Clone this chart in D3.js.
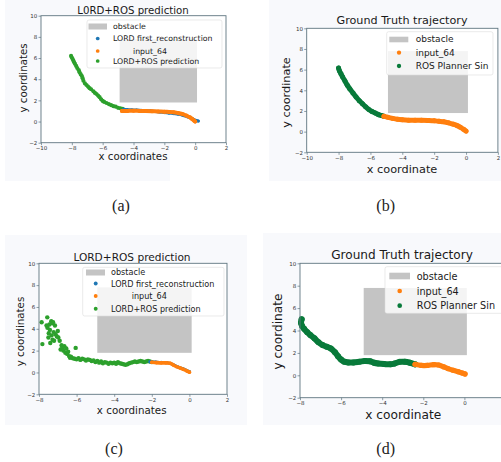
<!DOCTYPE html>
<html>
<head>
<meta charset="utf-8">
<script src="https://cdn.jsdelivr.net/npm/d3@7"></script>
<style>
body { margin: 0; background: #fff; }
svg { display: block; }
</style>
</head>
<body>
<div id="chart"></div>
<script>
var width = 501;
var height = 462;

// axis ranges and tick values
var xDomainWide = [-10, 2];
var xDomainNarrow = [-8, 2];
var xTicksWide = [-10, -8, -6, -4, -2, 0, 2];
var xTicksNarrow = [-8, -6, -4, -2, 0, 2];
var xTicksCut = [-8, -6, -4, -2, 0];       // panel (d): the "2" falls off the picture
var yTicks = [-2, 0, 2, 4, 6, 8, 10];

// obstacle rectangle (data units)
var obstacle = [-4.9, 0.12, 1.8, 7.8];   // x0, x1, y0, y1

var legendPred = ["obstacle", "LORD first_reconstruction", "input_64", "LORD+ROS prediction"];
var legendTruth = ["obstacle", "input_64", "ROS Planner Sin"];

// (a) prediction
var aGreen = [[-8.05,6.2],[-8.0,6.05],[-7.95,5.9],[-7.9,5.75],[-7.85,5.6],[-7.8,5.45],[-7.72,5.25],[-7.65,5.05],
  [-7.55,4.85],[-7.5,4.65],[-7.42,4.45],[-7.35,4.3],[-7.3,4.1],[-7.25,3.85],[-7.15,3.6],[-7.05,3.45],[-6.95,3.3],
  [-6.85,3.15],[-6.75,3.05],[-6.6,2.85],[-6.5,2.7],[-6.4,2.6],[-6.3,2.45],[-6.2,2.3],[-6.1,2.1],[-6.0,1.95],
  [-5.9,1.85],[-5.75,1.75],[-5.6,1.65],[-5.45,1.55],[-5.3,1.45],[-5.15,1.4],[-5.0,1.3],[-4.85,1.25],[-4.7,1.2]];
var aBlue = [[-4.65,1.15],[-4.4,1.12],[-4.1,1.1],[-3.8,1.08],[-3.5,1.05],[-3.2,1.02],[-2.9,1.0],[-2.6,0.95],
  [-2.3,0.9],[-2.0,0.85],[-1.7,0.8],[-1.4,0.75],[-1.1,0.7],[-0.8,0.6],[-0.5,0.45],[-0.3,0.35],[-0.1,0.2],[0.1,0.08],[0.2,0.05]];
var aOrange = [[-4.75,1.0],[-4.4,1.0],[-4.0,1.02],[-3.6,1.0],[-3.2,1.0],[-2.8,0.98],[-2.4,0.95],[-2.0,0.93],
  [-1.7,0.9],[-1.4,0.88],[-1.1,0.8],[-0.8,0.7],[-0.55,0.55],[-0.35,0.4],[-0.2,0.25],[-0.08,0.1],[0,0]];

// (b) ground truth
var bGreen = [[-8.0,6.15],[-7.95,5.9],[-7.85,5.6],[-7.75,5.3],[-7.6,4.9],[-7.45,4.5],[-7.3,4.15],[-7.1,3.75],
  [-6.9,3.35],[-6.7,3.0],[-6.5,2.7],[-6.3,2.4],[-6.1,2.15],[-5.9,1.95],[-5.7,1.8],[-5.5,1.65],[-5.3,1.55],[-5.15,1.48]];
var bOrange = [[-5.15,1.48],[-4.9,1.38],[-4.6,1.28],[-4.3,1.2],[-4.0,1.15],[-3.6,1.11],[-3.2,1.1],[-2.8,1.1],
  [-2.4,1.08],[-2.0,1.05],[-1.7,1.0],[-1.4,0.95],[-1.1,0.85],[-0.8,0.72],[-0.55,0.58],[-0.35,0.42],[-0.15,0.22],[0,0.05]];

// (c) prediction
var cGreen = [[-7.86,4.6],[-7.82,2.6],[-7.6,4.3],[-7.56,5.05],[-7.55,4.1],[-7.5,3.2],[-7.48,3.6],[-7.45,4.4],
  [-7.42,3.9],[-7.4,2.7],[-7.35,4.7],[-7.33,3.4],[-7.3,4.5],[-7.28,3.0],[-7.25,4.6],[-7.22,3.7],[-7.2,2.9],
  [-7.15,4.3],[-7.12,3.5],[-7.05,3.3],[-7.0,3.8],[-6.97,3.2],[-6.9,2.9],[-6.85,2.1],[-6.8,2.5],[-6.75,2.3],
  [-6.7,2.0],[-6.65,2.4],[-6.6,1.8],[-6.55,2.2],[-6.5,1.7],[-6.45,1.9],[-6.4,1.5],[-6.35,1.35],[-6.3,1.45],
  [-6.2,1.3],[-6.1,1.25],[-6.05,2.25],[-6.0,1.2],[-5.9,1.3],[-5.8,1.15],[-5.7,1.25],[-5.6,1.2],[-5.5,1.1],
  [-5.4,1.2],[-5.3,1.15],[-5.2,1.05],[-5.1,1.1],[-5.0,0.95],[-4.9,1.05],[-4.8,0.9],[-4.7,1.0],[-4.6,0.85],
  [-4.5,0.95],[-4.4,0.9],[-4.3,0.8],[-4.2,0.9],[-4.1,0.85],[-4.0,0.9],[-3.9,0.8],[-3.8,0.95],[-3.7,0.85],
  [-3.6,0.8],[-3.5,0.75],[-3.4,0.7],[-3.3,0.75],[-3.2,0.85],[-3.1,0.9],[-3.0,0.95],[-2.9,1.0],[-2.8,0.95],
  [-2.7,1.0],[-2.6,1.05],[-2.5,1.0],[-2.4,0.95],[-2.3,1.0],[-2.2,1.05],[-2.1,1.0],[-2.0,0.95]];
var cBlue = [[-2.1,0.98],[-1.8,0.95],[-1.5,0.92],[-1.2,0.9],[-0.9,0.75],[-0.6,0.5],[-0.3,0.3],[0,0.08]];
var cOrange = [[-2.0,0.93],[-1.75,0.9],[-1.5,0.88],[-1.25,0.88],[-1.03,0.85],[-0.85,0.68],[-0.68,0.53],
  [-0.5,0.42],[-0.32,0.29],[-0.15,0.15],[0,0.03]];

// (d) ground truth
var dGreen = [[-7.92,5.0],[-7.95,4.7],[-7.9,4.4],[-7.8,4.15],[-7.65,3.85],[-7.5,3.6],[-7.3,3.3],[-7.1,2.95],
  [-6.9,2.7],[-6.7,2.55],[-6.5,2.4],[-6.3,2.05],[-6.15,1.7],[-6.0,1.4],[-5.85,1.22],[-5.65,1.15],[-5.4,1.15],
  [-5.1,1.22],[-4.85,1.28],[-4.6,1.25],[-4.4,1.12],[-4.2,1.05],[-3.9,1.0],[-3.6,0.98],[-3.4,1.05],[-3.15,1.2],
  [-2.9,1.2],[-2.65,1.12],[-2.4,0.98]];
var dOrange = [[-2.4,0.98],[-2.1,0.88],[-1.8,0.88],[-1.5,0.95],[-1.25,0.92],[-1.0,0.75],[-0.8,0.6],[-0.55,0.45],
  [-0.3,0.32],[-0.1,0.2],[0.03,0.12]];

var col = {
    blue: "#1f77b4",
    orange: "#ff7f0e",
    green: "#2ca02c",
    darkGreen: "#087a3a",
    obstacle: "#c4c4c4",
    spine: "#5f7580",
    text: "#1a1a1a"
};

var svg = d3.select('#chart')
            .append('svg')
                .attr("width", width)
                .attr("height", height);

// faint scan backgrounds of the four pictures
[[5, 0, 165, 181], [269, 0, 232, 181], [5, 235, 242, 190], [263, 233, 238, 192]].forEach(function(r){
    svg.append("rect").attr("x", r[0]).attr("y", r[1]).attr("width", r[2]).attr("height", r[3])
        .attr("fill", "#f8f9fc");
});

var panels = [
    {
        box: {left: 41, right: 226, top: 15.7, bottom: 142.7},
        xDomain: xDomainWide, xTicks: xTicksWide,
        title: "L0RD+ROS prediction", titlePos: [133, 10], titleSize: 10.2,
        xLabel: "x coordinates", xLabelPos: [133, 156], yLabel: "y coordinates", yLabelPos: [23.5, 78], labelSize: 10.2,
        series: [
            {data: aGreen, color: col.green, r: 2.1},
            {data: aBlue, color: col.blue, r: 1.6, line: 3},
            {data: aOrange, color: col.orange, r: 2, line: 4}
        ],
        legend: {x: 87, y: 20, w: 135, h: 48, size: 7.8, patch: [88.5, 23.5, 18.5, 6],
            rows: [
                {label: legendPred[0], tx: 113, ty: 26},
                {label: legendPred[1], tx: 113, ty: 38.5, color: col.blue, dx: 97.7},
                {label: legendPred[2], tx: 133, ty: 51, color: col.orange, dx: 97.7},
                {label: legendPred[3], tx: 113, ty: 61, color: col.green, dx: 97.7}
            ]}
    },
    {
        box: {left: 306.7, right: 497.9, top: 28.3, bottom: 152.3},
        xDomain: xDomainWide, xTicks: xTicksWide,
        title: "Ground Truth trajectory", titlePos: [402, 20], titleSize: 11.2,
        xLabel: "x coordinate", xLabelPos: [402, 169], yLabel: "y coordinate", yLabelPos: [286.7, 92.5], labelSize: 11.3,
        series: [
            {data: bGreen, color: col.darkGreen, r: 2.5, line: 5},
            {data: bOrange, color: col.orange, r: 2.5, line: 5}
        ],
        legend: {x: 386.7, y: 31.7, w: 106.3, h: 43.3, size: 9, patch: [389.3, 36.7, 19, 5.6],
            rows: [
                {label: legendTruth[0], tx: 415.7, ty: 39.3},
                {label: legendTruth[1], tx: 415.7, ty: 52.7, color: col.orange, dx: 399},
                {label: legendTruth[2], tx: 415.7, ty: 66, color: col.darkGreen, dx: 399}
            ]}
    },
    {
        box: {left: 39, right: 227, top: 263.3, bottom: 394.3},
        xDomain: xDomainNarrow, xTicks: xTicksNarrow,
        title: "LORD+ROS prediction", titlePos: [132, 256.7], titleSize: 10.6,
        xLabel: "x coordinates", xLabelPos: [131.7, 410], yLabel: "y coordinates", yLabelPos: [19.5, 331.5], labelSize: 10.3,
        series: [
            {data: cGreen, color: col.green, r: 2.2},
            {data: cBlue, color: col.blue, r: 1.6, line: 3},
            {data: cOrange, color: col.orange, r: 1.8, line: 3.6}
        ],
        legend: {x: 82.7, y: 267.3, w: 141.3, h: 48.7, size: 8.1, patch: [86, 269.5, 19, 6],
            rows: [
                {label: legendPred[0], tx: 111, ty: 272.3},
                {label: legendPred[1], tx: 111, ty: 283.5, color: col.blue, dx: 95.7},
                {label: legendPred[2], tx: 131.7, ty: 296, color: col.orange, dx: 95.7},
                {label: legendPred[3], tx: 111, ty: 308.7, color: col.green, dx: 95.7}
            ]}
    },
    {
        box: {left: 300, right: 505.5, top: 263.3, bottom: 397.7},
        xDomain: xDomainNarrow, xTicks: xTicksCut,
        title: "Ground Truth trajectory", titlePos: [402, 255], titleSize: 12.1,
        xLabel: "x coordinate", xLabelPos: [403.3, 415], yLabel: "y coordinate", yLabelPos: [278.3, 331.5], labelSize: 12.2,
        series: [
            {data: dGreen, color: col.darkGreen, r: 3, line: 6},
            {data: dOrange, color: col.orange, r: 2.6, line: 5.2}
        ],
        legend: {x: 385, y: 266.7, w: 118, h: 46.6, size: 9.7, patch: [389.3, 272.7, 20.7, 6.6],
            rows: [
                {label: legendTruth[0], tx: 416.7, ty: 276},
                {label: legendTruth[1], tx: 416.7, ty: 291, color: col.orange, dx: 399.7},
                {label: legendTruth[2], tx: 416.7, ty: 305.7, color: col.darkGreen, dx: 399.7}
            ]}
    }
];

var captions = [["(a)", 121, 205], ["(b)", 385.7, 205], ["(c)", 114, 448], ["(d)", 385.7, 448]];

function drawPanel(p){
    var g = svg.append("g").attr("font-family", "DejaVu Sans").attr("fill", col.text);
    var b = p.box;

    var xScale = d3.scaleLinear()
                    .domain(p.xDomain)
                    .range([b.left, b.right]);
    var yScale = d3.scaleLinear()
                    .domain([yTicks[0], yTicks[yTicks.length - 1]])
                    .range([b.bottom, b.top]);

    g.append("rect")
        .attr("x", b.left).attr("y", b.top)
        .attr("width", b.right - b.left).attr("height", b.bottom - b.top)
        .attr("fill", "#fff");

    g.append("rect")
        .attr("x", xScale(obstacle[0]))
        .attr("y", yScale(obstacle[3]))
        .attr("width", xScale(obstacle[1]) - xScale(obstacle[0]))
        .attr("height", yScale(obstacle[2]) - yScale(obstacle[3]))
        .attr("fill", col.obstacle);

    var lineFunc = d3.line()
                    .x(function(d){ return xScale(d[0]); })
                    .y(function(d){ return yScale(d[1]); })
                    .curve(d3.curveCatmullRom);

    p.series.forEach(function(s){
        if (s.line){
            g.append("path")
                .attr("d", lineFunc(s.data))
                .attr("fill", "none")
                .attr("stroke", s.color)
                .attr("stroke-width", s.line)
                .attr("stroke-linecap", "round")
                .attr("stroke-linejoin", "round");
        }
        g.append("g").selectAll("circle")
            .data(s.data)
            .enter()
            .append("circle")
            .attr("cx", function(d){ return xScale(d[0]); })
            .attr("cy", function(d){ return yScale(d[1]); })
            .attr("r", s.r)
            .attr("fill", s.color);
    });

    var xAxis = g.append("g")
        .attr("transform", "translate(0," + b.bottom + ")")
        .call(d3.axisBottom(xScale).tickValues(p.xTicks).tickSize(2.5).tickPadding(1.2).tickFormat(d3.format("d")));
    var yAxis = g.append("g")
        .attr("transform", "translate(" + b.left + ",0)")
        .call(d3.axisLeft(yScale).tickValues(yTicks).tickSize(2.5).tickPadding(1.2).tickFormat(d3.format("d")));
    [xAxis, yAxis].forEach(function(ax){
        ax.attr("font-family", "DejaVu Sans").attr("font-size", 5.5);
        ax.select(".domain").remove();
        ax.selectAll("line").attr("stroke", col.spine).attr("stroke-width", 0.7);
        ax.selectAll("text").attr("fill", "#333");
    });

    g.append("rect")
        .attr("x", b.left).attr("y", b.top)
        .attr("width", b.right - b.left).attr("height", b.bottom - b.top)
        .attr("fill", "none")
        .attr("stroke", col.spine)
        .attr("stroke-width", 0.9);

    // legend
    var L = p.legend;
    var lg = g.append("g");
    lg.append("rect")
        .attr("x", L.x).attr("y", L.y).attr("width", L.w).attr("height", L.h)
        .attr("rx", 2)
        .attr("fill", "#fff").attr("fill-opacity", 0.82)
        .attr("stroke", "#dcdcdc").attr("stroke-width", 0.6);
    lg.append("rect")
        .attr("x", L.patch[0]).attr("y", L.patch[1]).attr("width", L.patch[2]).attr("height", L.patch[3])
        .attr("fill", col.obstacle);
    L.rows.forEach(function(r){
        if (r.color){
            lg.append("circle").attr("cx", r.dx).attr("cy", r.ty).attr("r", L.size * 0.24).attr("fill", r.color);
        }
        lg.append("text")
            .attr("x", r.tx).attr("y", r.ty)
            .attr("dominant-baseline", "central")
            .attr("font-size", L.size)
            .text(r.label);
    });

    g.append("text")
        .attr("x", p.titlePos[0]).attr("y", p.titlePos[1])
        .attr("text-anchor", "middle").attr("dominant-baseline", "central")
        .attr("font-size", p.titleSize)
        .text(p.title);
    g.append("text")
        .attr("x", p.xLabelPos[0]).attr("y", p.xLabelPos[1])
        .attr("text-anchor", "middle").attr("dominant-baseline", "central")
        .attr("font-size", p.labelSize)
        .text(p.xLabel);
    g.append("text")
        .attr("transform", "translate(" + p.yLabelPos[0] + "," + p.yLabelPos[1] + ") rotate(-90)")
        .attr("text-anchor", "middle").attr("dominant-baseline", "central")
        .attr("font-size", p.labelSize)
        .text(p.yLabel);
}

panels.forEach(drawPanel);

svg.selectAll("text.caption")
    .data(captions)
    .enter()
    .append("text")
    .attr("class", "caption")
    .attr("x", function(d){ return d[1]; })
    .attr("y", function(d){ return d[2]; })
    .attr("text-anchor", "middle")
    .attr("dominant-baseline", "central")
    .attr("font-family", "Liberation Serif")
    .attr("font-size", 16)
    .attr("fill", "#222")
    .text(function(d){ return d[0]; });
</script>
</body>
</html>
